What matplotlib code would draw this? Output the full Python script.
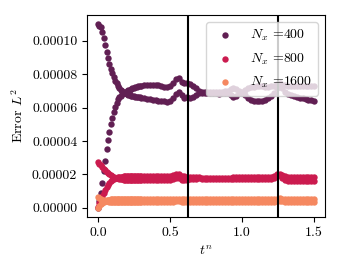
import numpy as np
import matplotlib
matplotlib.use('Agg')
import matplotlib.pyplot as plt
from matplotlib.ticker import FormatStrFormatter
import seaborn as sns

# time steps: fine at the start, coarser afterwards
t_early = np.round(np.arange(0.0, 0.30 + 1e-9, 0.01), 2)
t_late = np.round(np.arange(0.32, 1.50 + 1e-9, 0.02), 2)
t_n = np.concatenate([t_early, t_late])

labels = [r'$N_x$ =400', r'$N_x$ =800', r'$N_x$ =1600']
vlines_t = [0.625, 1.25]

# error values in units of 1e-5, two branches per resolution
n400_a_early = [11.0, 10.9, 10.8, 10.55, 10.2, 9.75, 9.35, 8.95, 8.6, 8.3,
                8.05, 7.85, 7.6, 7.45, 7.3, 7.15, 7.05, 6.97, 6.9, 6.85,
                6.8, 6.77, 6.74, 6.72, 6.7, 6.68, 6.66, 6.64, 6.62, 6.61, 6.6]
n400_a_late = [6.57, 6.53, 6.5, 6.47, 6.45, 6.42, 6.4, 6.38, 6.36, 6.4,
               6.55, 6.8, 6.95, 6.75, 6.6, 6.62, 6.6, 6.65, 6.75, 6.85,
               6.9, 6.9, 6.88, 6.86, 6.85, 6.85, 6.84, 6.85, 6.86, 6.87,
               6.75, 6.65, 6.7, 6.85, 6.9, 6.75, 6.6, 6.48, 6.4, 6.37,
               6.37, 6.4, 6.45, 6.55, 6.7, 6.9, 7.15, 7.35, 7.15, 6.95,
               6.82, 6.75, 6.7, 6.65, 6.6, 6.55, 6.52, 6.48, 6.45, 6.42]
n400_b_early = [0.0, 0.4, 0.9, 1.5, 2.2, 2.8, 3.5, 4.05, 4.55, 5.0,
                5.4, 5.75, 6.05, 6.3, 6.5, 6.62, 6.72, 6.8, 6.85, 6.9,
                6.97, 7.03, 7.08, 7.12, 7.16, 7.19, 7.22, 7.25, 7.27, 7.29, 7.3]
n400_b_late = [7.33, 7.36, 7.37, 7.38, 7.37, 7.35, 7.3, 7.25, 7.22, 7.3,
               7.5, 7.7, 7.75, 7.55, 7.45, 7.5, 7.4, 7.3, 7.15, 7.0,
               6.95, 6.92, 6.92, 6.93, 6.93, 6.94, 6.95, 6.96, 6.97, 6.98,
               7.1, 7.15, 7.1, 6.98, 6.95, 7.05, 7.15, 7.22, 7.26, 7.28,
               7.28, 7.27, 7.26, 7.25, 7.27, 7.32, 7.42, 7.45, 7.38, 7.33,
               7.3, 7.3, 7.3, 7.3, 7.3, 7.3, 7.3, 7.3, 7.3, 7.3]

n800_a_early = [2.75, 2.65, 2.55, 2.45, 2.35, 2.25, 2.15, 2.07, 2.0, 1.94,
                1.89, 1.85, 1.81, 1.78, 1.76, 1.74, 1.72, 1.7, 1.69, 1.68,
                1.67, 1.67, 1.66, 1.66, 1.65, 1.65, 1.65, 1.64, 1.64, 1.64, 1.64]
n800_a_late = [1.64, 1.64, 1.64, 1.64, 1.64, 1.64, 1.64, 1.64, 1.64, 1.66,
               1.72, 1.8, 1.76, 1.68, 1.66, 1.68, 1.7, 1.72, 1.74, 1.76,
               1.74, 1.72, 1.71, 1.71, 1.71, 1.71, 1.71, 1.71, 1.71, 1.71,
               1.71, 1.73, 1.75, 1.74, 1.72, 1.72, 1.72, 1.72, 1.72, 1.72,
               1.72, 1.72, 1.72, 1.72, 1.73, 1.78, 1.9, 1.95, 1.8, 1.68,
               1.62, 1.62, 1.62, 1.62, 1.62, 1.62, 1.62, 1.62, 1.62, 1.62]
n800_b_early = [0.08, 0.3, 0.5, 0.7, 0.9, 1.07, 1.23, 1.37, 1.49, 1.6,
                1.68, 1.74, 1.78, 1.81, 1.83, 1.85, 1.86, 1.87, 1.88, 1.89,
                1.9, 1.9, 1.9, 1.9, 1.9, 1.91, 1.91, 1.91, 1.91, 1.91, 1.91]
n800_b_late = [1.91, 1.91, 1.91, 1.91, 1.91, 1.91, 1.91, 1.91, 1.91, 1.93,
               1.98, 2.05, 2.0, 1.92, 1.88, 1.86, 1.85, 1.85, 1.84, 1.84,
               1.8, 1.8, 1.8, 1.8, 1.8, 1.8, 1.8, 1.8, 1.8, 1.8,
               1.8, 1.83, 1.85, 1.83, 1.82, 1.82, 1.82, 1.82, 1.82, 1.82,
               1.82, 1.82, 1.82, 1.82, 1.83, 1.88, 2.0, 2.05, 1.95, 1.88,
               1.87, 1.87, 1.87, 1.87, 1.87, 1.87, 1.87, 1.87, 1.87, 1.87]

n1600_a_early = [0.65, 0.6, 0.55, 0.5, 0.46, 0.43, 0.41, 0.39, 0.38, 0.38,
                 0.37, 0.37, 0.37, 0.37, 0.37, 0.37, 0.37, 0.37, 0.37, 0.37,
                 0.37, 0.37, 0.37, 0.37, 0.37, 0.37, 0.37, 0.37, 0.37, 0.37, 0.37]
n1600_a_late = [0.37, 0.37, 0.37, 0.37, 0.37, 0.37, 0.37, 0.37, 0.37, 0.37,
                0.38, 0.4, 0.39, 0.37, 0.37, 0.37, 0.37, 0.37, 0.37, 0.37,
                0.36, 0.36, 0.36, 0.36, 0.36, 0.36, 0.36, 0.36, 0.36, 0.36,
                0.36, 0.36, 0.36, 0.36, 0.36, 0.36, 0.36, 0.36, 0.36, 0.36,
                0.36, 0.36, 0.36, 0.36, 0.36, 0.37, 0.4, 0.43, 0.4, 0.37,
                0.36, 0.36, 0.36, 0.36, 0.36, 0.36, 0.36, 0.36, 0.36, 0.36]
n1600_b_early = [0.02, 0.12, 0.22, 0.3, 0.36, 0.42, 0.46, 0.48, 0.5, 0.51,
                 0.52, 0.52, 0.52, 0.52, 0.52, 0.52, 0.52, 0.52, 0.52, 0.52,
                 0.52, 0.52, 0.52, 0.52, 0.52, 0.52, 0.52, 0.52, 0.52, 0.52, 0.52]
n1600_b_late = [0.52, 0.52, 0.52, 0.52, 0.52, 0.52, 0.52, 0.52, 0.52, 0.52,
                0.53, 0.55, 0.54, 0.52, 0.52, 0.52, 0.52, 0.52, 0.52, 0.52,
                0.51, 0.51, 0.51, 0.51, 0.51, 0.51, 0.51, 0.51, 0.51, 0.51,
                0.51, 0.51, 0.51, 0.51, 0.51, 0.51, 0.51, 0.51, 0.51, 0.51,
                0.51, 0.51, 0.51, 0.51, 0.51, 0.52, 0.55, 0.58, 0.55, 0.52,
                0.51, 0.51, 0.51, 0.51, 0.51, 0.51, 0.51, 0.51, 0.51, 0.51]


def setup_font():
    """Computer Modern look without LaTeX."""
    plt.rcParams['font.family'] = 'serif'
    plt.rcParams['font.serif'] = ['cmr10', 'DejaVu Serif']
    plt.rcParams['mathtext.fontset'] = 'cm'
    plt.rcParams['axes.formatter.use_mathtext'] = True
    plt.rcParams['axes.unicode_minus'] = False
    plt.rcParams['font.size'] = 10


def branch(early, late):
    return np.array(early + late) * 1e-5


def draw_chart():
    colors = sns.color_palette('rocket', 3)
    series = [
        (branch(n400_a_early, n400_a_late), branch(n400_b_early, n400_b_late)),
        (branch(n800_a_early, n800_a_late), branch(n800_b_early, n800_b_late)),
        (branch(n1600_a_early, n1600_a_late), branch(n1600_b_early, n1600_b_late)),
    ]

    fig = plt.figure(figsize=(3.4, 2.72), dpi=100)
    ax = fig.add_axes([0.256, 0.202, 0.70, 0.743])

    for (a, b), color, label in zip(series, colors, labels):
        ax.scatter(t_n, a, s=21, color=color, linewidths=0, label=label)
        ax.scatter(t_n, b, s=21, color=color, linewidths=0)

    for tv in vlines_t:
        ax.axvline(tv, color='black', linewidth=1.5, zorder=3)

    ax.yaxis.set_major_formatter(FormatStrFormatter('%.5f'))
    ax.set_xticks([0.0, 0.5, 1.0, 1.5])
    ax.set_xticklabels(['0.0', '0.5', '1.0', '1.5'])
    ax.set_yticks([0.0, 0.00002, 0.00004, 0.00006, 0.00008, 0.00010])

    ax.set_xlabel(r'$t^n$')
    ax.set_ylabel(r'Error $L^2$')
    ax.legend(loc='upper right', labelspacing=0.6)

    fig.savefig('out.png', dpi=100)


def main():
    setup_font()
    draw_chart()


if __name__ == '__main__':
    main()
